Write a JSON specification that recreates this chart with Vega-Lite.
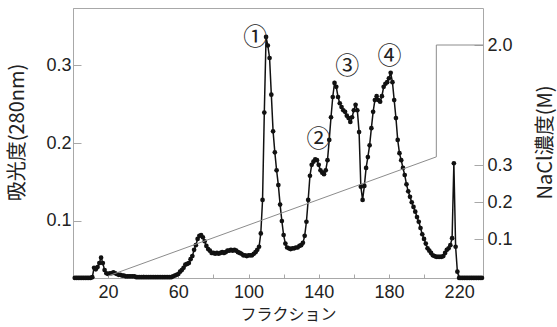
{
"$schema": "https://vega.github.io/schema/vega-lite/v6.json",
"width": 410, "height": 270,
"autosize": {"type": "none"},
"padding": {"left": 73, "top": 8, "right": 74, "bottom": 49},
"background": "white",
"config": {
 "view": {"stroke": "#a8a8a8", "strokeWidth": 1},
 "axis": {"grid": false, "domainColor": "#a8a8a8", "tickColor": "#a8a8a8", "labelColor": "#222222", "titleColor": "#222222", "labelFont": "Liberation Sans", "labelFontSize": 18, "titleFont": "Noto Sans CJK JP", "titleFontSize": 20, "titleFontWeight": "normal", "labelOverlap": false}
},
"datasets": {
 "abs": [
  {"f":1,"a":0.027},{"f":2,"a":0.027},{"f":3,"a":0.027},{"f":4,"a":0.027},{"f":5,"a":0.027},{"f":6,"a":0.027},{"f":7,"a":0.027},{"f":8,"a":0.027},{"f":9,"a":0.027},{"f":10,"a":0.027},
  {"f":11,"a":0.028},{"f":12,"a":0.040},{"f":13,"a":0.038},{"f":14,"a":0.041},{"f":15,"a":0.046},{"f":16,"a":0.053},{"f":17,"a":0.046},{"f":18,"a":0.037},{"f":19,"a":0.033},{"f":20,"a":0.032},
  {"f":21,"a":0.033},{"f":22,"a":0.033},{"f":23,"a":0.034},{"f":24,"a":0.033},{"f":25,"a":0.032},{"f":26,"a":0.031},{"f":27,"a":0.031},{"f":28,"a":0.030},{"f":29,"a":0.030},{"f":30,"a":0.029},
  {"f":31,"a":0.029},{"f":32,"a":0.029},{"f":33,"a":0.029},{"f":34,"a":0.029},{"f":35,"a":0.029},{"f":36,"a":0.028},{"f":37,"a":0.028},{"f":38,"a":0.028},{"f":39,"a":0.028},{"f":40,"a":0.028},
  {"f":41,"a":0.028},{"f":42,"a":0.028},{"f":43,"a":0.028},{"f":44,"a":0.028},{"f":45,"a":0.028},{"f":46,"a":0.028},{"f":47,"a":0.028},{"f":48,"a":0.028},{"f":49,"a":0.028},{"f":50,"a":0.028},
  {"f":51,"a":0.028},{"f":52,"a":0.028},{"f":53,"a":0.028},{"f":54,"a":0.028},{"f":55,"a":0.028},{"f":56,"a":0.028},{"f":57,"a":0.029},{"f":58,"a":0.030},{"f":59,"a":0.031},{"f":60,"a":0.032},
  {"f":61,"a":0.035},{"f":62,"a":0.037},{"f":63,"a":0.040},{"f":64,"a":0.044},{"f":65,"a":0.045},{"f":66,"a":0.046},{"f":67,"a":0.051},{"f":68,"a":0.055},{"f":69,"a":0.063},{"f":70,"a":0.069},
  {"f":71,"a":0.077},{"f":72,"a":0.081},{"f":73,"a":0.082},{"f":74,"a":0.079},{"f":75,"a":0.074},{"f":76,"a":0.068},{"f":77,"a":0.064},{"f":78,"a":0.062},{"f":79,"a":0.059},{"f":80,"a":0.059},
  {"f":81,"a":0.058},{"f":82,"a":0.059},{"f":83,"a":0.058},{"f":84,"a":0.059},{"f":85,"a":0.060},{"f":86,"a":0.059},{"f":87,"a":0.060},{"f":88,"a":0.062},{"f":89,"a":0.062},{"f":90,"a":0.063},
  {"f":91,"a":0.062},{"f":92,"a":0.063},{"f":93,"a":0.062},{"f":94,"a":0.060},{"f":95,"a":0.059},{"f":96,"a":0.058},{"f":97,"a":0.056},{"f":98,"a":0.056},{"f":99,"a":0.055},{"f":100,"a":0.056},
  {"f":101,"a":0.056},{"f":102,"a":0.056},{"f":103,"a":0.058},{"f":104,"a":0.060},{"f":105,"a":0.063},{"f":106,"a":0.067},{"f":107,"a":0.084},{"f":108,"a":0.127},{"f":109,"a":0.239},{"f":110,"a":0.336},
  {"f":111,"a":0.325},{"f":112,"a":0.309},{"f":113,"a":0.262},{"f":114,"a":0.215},{"f":115,"a":0.188},{"f":116,"a":0.165},{"f":117,"a":0.146},{"f":118,"a":0.121},{"f":119,"a":0.100},{"f":120,"a":0.082},
  {"f":121,"a":0.071},{"f":122,"a":0.066},{"f":123,"a":0.065},{"f":124,"a":0.064},{"f":125,"a":0.065},{"f":126,"a":0.065},{"f":127,"a":0.066},{"f":128,"a":0.066},{"f":129,"a":0.068},{"f":130,"a":0.069},
  {"f":131,"a":0.072},{"f":132,"a":0.081},{"f":133,"a":0.099},{"f":134,"a":0.127},{"f":135,"a":0.158},{"f":136,"a":0.172},{"f":137,"a":0.176},{"f":138,"a":0.179},{"f":139,"a":0.178},{"f":140,"a":0.172},
  {"f":141,"a":0.165},{"f":142,"a":0.162},{"f":143,"a":0.160},{"f":144,"a":0.165},{"f":145,"a":0.178},{"f":146,"a":0.204},{"f":147,"a":0.233},{"f":148,"a":0.259},{"f":149,"a":0.277},{"f":150,"a":0.272},
  {"f":151,"a":0.259},{"f":152,"a":0.251},{"f":153,"a":0.246},{"f":154,"a":0.242},{"f":155,"a":0.240},{"f":156,"a":0.235},{"f":157,"a":0.232},{"f":158,"a":0.227},{"f":159,"a":0.233},{"f":160,"a":0.242},
  {"f":161,"a":0.249},{"f":162,"a":0.242},{"f":163,"a":0.214},{"f":164,"a":0.144},{"f":165,"a":0.127},{"f":166,"a":0.145},{"f":167,"a":0.168},{"f":168,"a":0.182},{"f":169,"a":0.197},{"f":170,"a":0.219},
  {"f":171,"a":0.240},{"f":172,"a":0.255},{"f":173,"a":0.260},{"f":174,"a":0.255},{"f":175,"a":0.253},{"f":176,"a":0.260},{"f":177,"a":0.272},{"f":178,"a":0.276},{"f":179,"a":0.278},{"f":180,"a":0.283},
  {"f":181,"a":0.290},{"f":182,"a":0.278},{"f":183,"a":0.255},{"f":184,"a":0.232},{"f":185,"a":0.204},{"f":186,"a":0.187},{"f":187,"a":0.178},{"f":188,"a":0.168},{"f":189,"a":0.159},{"f":190,"a":0.147},
  {"f":191,"a":0.138},{"f":192,"a":0.131},{"f":193,"a":0.124},{"f":194,"a":0.118},{"f":195,"a":0.112},{"f":196,"a":0.105},{"f":197,"a":0.099},{"f":198,"a":0.091},{"f":199,"a":0.083},{"f":200,"a":0.077},
  {"f":201,"a":0.071},{"f":202,"a":0.065},{"f":203,"a":0.062},{"f":204,"a":0.059},{"f":205,"a":0.056},{"f":206,"a":0.055},{"f":207,"a":0.054},{"f":208,"a":0.054},{"f":209,"a":0.054},{"f":210,"a":0.054},
  {"f":211,"a":0.055},{"f":212,"a":0.059},{"f":213,"a":0.063},{"f":214,"a":0.065},{"f":215,"a":0.069},{"f":216,"a":0.078},{"f":217,"a":0.174},{"f":218,"a":0.067},{"f":219,"a":0.035},{"f":220,"a":0.027},
  {"f":221,"a":0.027},{"f":222,"a":0.027},{"f":223,"a":0.027},{"f":224,"a":0.027},{"f":225,"a":0.027},{"f":226,"a":0.027},{"f":227,"a":0.027},{"f":228,"a":0.027},{"f":229,"a":0.027},{"f":230,"a":0.027},
  {"f":231,"a":0.027},{"f":232,"a":0.027},{"f":233,"a":0.027}
 ],
 "nacl": [
  {"f":20,"m":0},{"f":207,"m":0.322},{"f":207,"m":2.0},{"f":233.6,"m":2.0}
 ],
 "peaks": [
  {"f":103.8,"a":0.335,"t":"①"},{"f":139.9,"a":0.204,"t":"②"},{"f":156.2,"a":0.297,"t":"③"},{"f":180.3,"a":0.310,"t":"④"}
 ]
},
"layer": [
 {"layer": [
  {"data": {"name": "abs"},
   "mark": {"type": "line", "color": "#111111", "strokeWidth": 1.5, "point": {"filled": true, "color": "#111111", "size": 22}},
   "encoding": {
    "x": {"field": "f", "type": "quantitative", "scale": {"domain": [0, 233.6], "nice": false, "zero": false},
          "axis": {"values": [20,40,60,80,100,120,140,160,180,200,220], "labelExpr": "datum.value % 40 == 20 ? datum.label : ''", "tickSize": -4, "labelPadding": 9, "title": "フラクション", "titleFontSize": 16, "titleX": 215, "titleY": 36, "titleBaseline": "middle", "titleAlign": "center"}},
    "y": {"field": "a", "type": "quantitative", "scale": {"domain": [0.0269, 0.3731], "nice": false, "zero": false},
          "axis": {"orient": "left", "values": [0.1, 0.2, 0.3], "format": ".1f", "tickSize": -8, "labelPadding": 10, "title": "吸光度(280nm)", "titleAngle": 270, "titleX": -56, "titleY": 124, "titleBaseline": "middle", "titleAlign": "center"}}
   }},
  {"data": {"name": "peaks"},
   "mark": {"type": "text", "font": "Noto Sans CJK JP", "fontSize": 24, "color": "#222222", "align": "center", "baseline": "middle"},
   "encoding": {
    "x": {"field": "f", "type": "quantitative",
          "axis": {"values": [20,40,60,80,100,120,140,160,180,200,220], "labelExpr": "datum.value % 40 == 20 ? datum.label : ''", "tickSize": -4, "labelPadding": 9, "title": "フラクション", "titleFontSize": 16, "titleX": 215, "titleY": 36, "titleBaseline": "middle", "titleAlign": "center"}},
    "y": {"field": "a", "type": "quantitative",
          "axis": {"orient": "left", "values": [0.1, 0.2, 0.3], "format": ".1f", "tickSize": -8, "labelPadding": 10, "title": "吸光度(280nm)", "titleAngle": 270, "titleX": -56, "titleY": 124, "titleBaseline": "middle", "titleAlign": "center"}},
    "text": {"field": "t"}
   }}
 ]},
 {"data": {"name": "nacl"},
  "mark": {"type": "line", "color": "#8c8c8c", "strokeWidth": 1},
  "encoding": {
   "x": {"field": "f", "type": "quantitative",
         "axis": {"values": [20,40,60,80,100,120,140,160,180,200,220], "labelExpr": "datum.value % 40 == 20 ? datum.label : ''", "tickSize": -4, "labelPadding": 9, "title": "フラクション", "titleFontSize": 16, "titleX": 215, "titleY": 36, "titleBaseline": "middle", "titleAlign": "center"}},
   "y": {"field": "m", "type": "quantitative", "scale": {"domain": [0, 0.35, 2.0], "range": [268, 138.5, 37], "nice": false, "zero": false},
         "axis": {"orient": "right", "values": [0.1, 0.2, 0.3, 2.0], "format": ".1f", "tickSize": -9, "labelPadding": 13, "title": "NaCl濃度(M)", "titleAngle": 270, "titleX": 62, "titleY": 134, "titleBaseline": "middle", "titleAlign": "center"}},
   "order": {"value": null}
  }}
],
"resolve": {"scale": {"y": "independent"}}
}
